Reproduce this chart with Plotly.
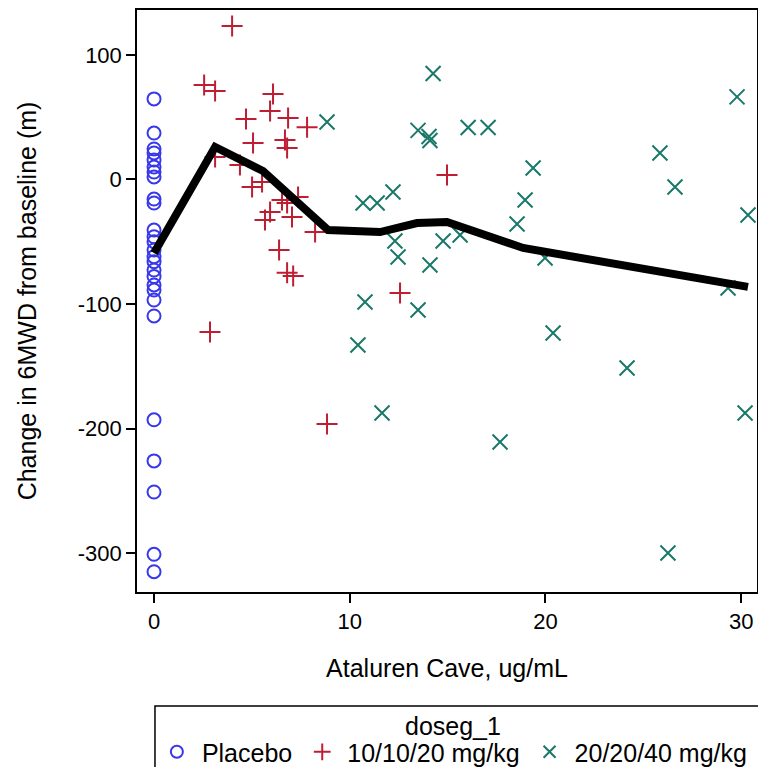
import plotly.graph_objects as go

# Placebo (x = 0)
placebo_x = [0]*27
placebo_y = [64.7, 37.3, 24.5, 21.3, 15.7, 10, 6, 2, -15.7, -18.9, -40.6, -46, -50,
             -56.6, -62, -66, -72.7, -78, -84.7, -88.8, -96.8, -109.6, -193, -226,
             -251, -301, -315]

# 10/10/20 mg/kg
low_x = [3.99, 2.56, 3.12, 6.08, 5.93, 6.85, 4.70, 7.82, 5.06, 6.69, 6.80, 3.12, 4.39,
         5.01, 5.52, 6.54, 6.80, 7.36, 5.93, 5.67, 7.05, 8.23, 6.39, 6.80, 7.11, 2.86,
         8.84, 14.97, 12.57]
low_y = [123.3, 75.9, 71.1, 68.7, 55.0, 49.4, 48.6, 42.0, 29.3, 31.7, 25.3, 18.1, 11.6,
         -6.0, -2.0, -16.5, -18.9, -14.1, -26.1, -32.5, -30.1, -42.2, -56.6, -74.9,
         -77.5, -122.5, -196.4, 3.6, -91.2]

# 20/20/40 mg/kg
high_x = [8.84, 14.26, 13.49, 14.05, 14.10, 16.05, 17.07, 19.37, 18.96, 18.55, 10.68,
          11.40, 12.21, 12.31, 12.47, 14.10, 14.77, 15.64, 19.98, 10.78, 13.49, 10.42,
          11.65, 17.68, 20.39, 24.17, 29.79, 25.85, 26.62, 30.35, 29.33, 30.2, 26.26]
high_y = [46.2, 85.1, 39.4, 34.5, 31.3, 41.8, 41.8, 9.2, -16.5, -35.7, -18.9, -18.9,
          -10.0, -49.4, -62.2, -68.7, -49.4, -44.6, -63.0, -98.4, -104.8, -132.9,
          -187.6, -210.8, -123.3, -151.4, 66.3, 21.3, -6.0, -28.5, -87.1, -187.6, -300.0]

# smoothed trend line
trend_x = [0, 3.12, 5.57, 8.89, 11.55, 13.44, 14.97, 18.86, 30.35]
trend_y = [-59, 26.1, 6.8, -40.6, -42.2, -35.0, -34.1, -55.0, -86.3]

x_ticks = [0, 10, 20, 30]
x_ticktext = ["0", "10", "20", "30"]
y_ticks = [100, 0, -100, -200, -300]
y_ticktext = ["100", "0", "-100", "-200", "-300"]
legend_title = "doseg_1"

blue = "rgb(55,55,235)"
red = "rgb(190,30,50)"
green = "rgb(25,120,105)"

fig = go.Figure()
fig.add_trace(go.Scatter(x=placebo_x, y=placebo_y, mode="markers", name="Placebo",
                         marker=dict(symbol="circle-open", size=13, color=blue,
                                     line=dict(width=2, color=blue))))
fig.add_trace(go.Scatter(x=low_x, y=low_y, mode="markers", name="10/10/20 mg/kg",
                         marker=dict(symbol="cross-thin-open", size=15, color=red,
                                     line=dict(width=2, color=red))))
fig.add_trace(go.Scatter(x=high_x, y=high_y, mode="markers", name="20/20/40 mg/kg",
                         marker=dict(symbol="x-thin-open", size=15, color=green,
                                     line=dict(width=2, color=green))))
fig.add_trace(go.Scatter(x=trend_x, y=trend_y, mode="lines", showlegend=False,
                         line=dict(color="black", width=8)))

axis_common = dict(showline=True, linecolor="black", linewidth=1.5, mirror=True,
                   showgrid=False, zeroline=False, ticks="outside", ticklen=9,
                   tickwidth=1.5, tickcolor="black",
                   tickfont=dict(size=22, color="black"))

fig.update_layout(
    width=758, height=767,
    margin=dict(l=137, r=1, t=10, b=175, autoexpand=False),
    paper_bgcolor="white", plot_bgcolor="white",
    font=dict(family="Liberation Sans, Arial, sans-serif", color="black"),
    xaxis=dict(range=[-0.87, 30.81], tickvals=x_ticks, ticktext=x_ticktext,
               title=dict(text="Ataluren Cave, ug/mL", font=dict(size=25), standoff=26),
               **axis_common),
    yaxis=dict(range=[-331.3, 136.1], tickvals=y_ticks, ticktext=y_ticktext,
               title=dict(text="Change in 6MWD from baseline (m)", font=dict(size=25), standoff=34),
               **axis_common),
    legend=dict(orientation="h", x=0.024, xanchor="left", y=-0.275, yanchor="middle",
                borderwidth=0, bgcolor="rgba(0,0,0,0)",
                font=dict(size=25, color="black"),
                itemsizing="constant", itemwidth=40, tracegroupgap=0),
    shapes=[dict(type="rect", xref="paper", yref="paper",
                 x0=0.029, x1=1.06, y0=-0.1959, y1=-0.40,
                 line=dict(color="black", width=1.5), fillcolor="rgba(0,0,0,0)")],
    annotations=[dict(text=legend_title, xref="paper", yref="paper",
                      x=0.51, y=-0.230, xanchor="center", yanchor="middle",
                      showarrow=False, font=dict(size=25, color="black"))],
)

fig.write_html("out.html")
